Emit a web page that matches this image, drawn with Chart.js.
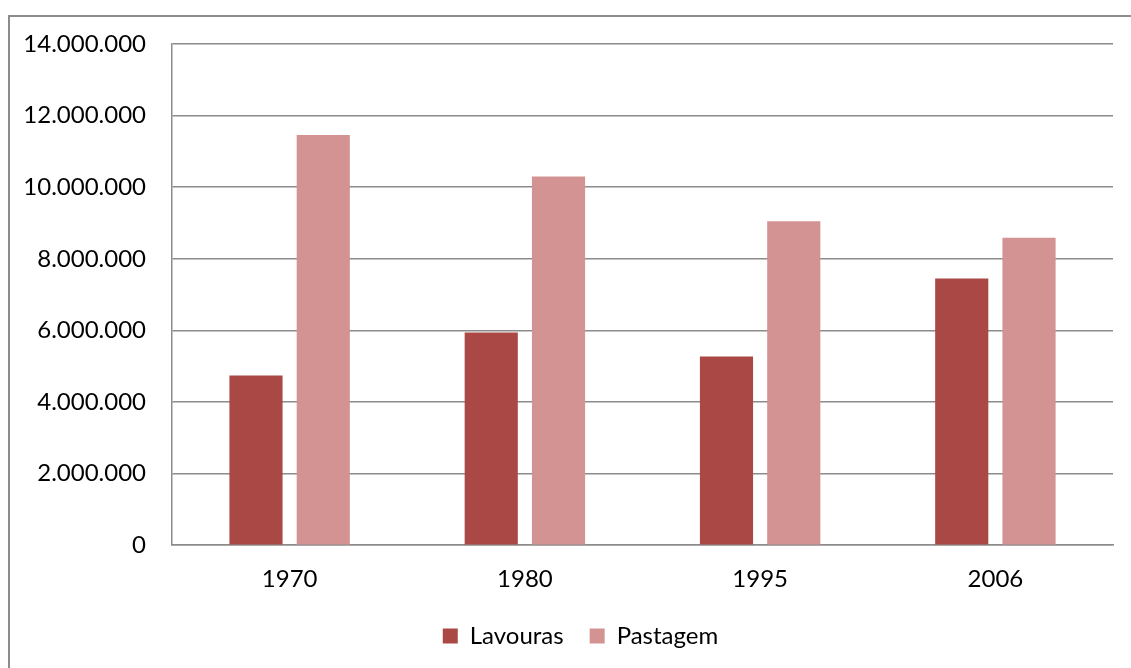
<!DOCTYPE html>
<html>
<head>
<meta charset="utf-8">
<script src="https://cdn.jsdelivr.net/npm/chart.js@4"></script>
<style>
  html, body { margin: 0; padding: 0; background: #fff; overflow: hidden; }
  #frame { position: absolute; left: 8px; top: 15px; width: 1200px; height: 700px;
           border: 2px solid #8c8c8c; box-sizing: border-box; }
  #wrap { position: absolute; left: 0; top: 0; width: 1131px; height: 668px; }
</style>
</head>
<body>
<div id="frame"></div>
<div id="wrap"><canvas id="chart"></canvas></div>
<script>
var years = ['1970', '1980', '1995', '2006'];
var lavouras = [4740000, 5940000, 5270000, 7450000];
var pastagem = [11460000, 10300000, 9050000, 8590000];

function fmt(v) {
    return v.toString().replace(/\B(?=(\d{3})+(?!\d))/g, '.');
}

Chart.defaults.font.family = 'Lato, "Open Sans", sans-serif';
Chart.defaults.font.size = 24;
Chart.defaults.color = '#000';

// legend sits a bit right of the canvas centre in the original
var legendShift = {
    id: 'legendShift',
    afterLayout: function (chart) {
        chart.legend.left += 24;
        chart.legend.right += 24;
    }
};

new Chart(document.getElementById('chart'), {
    type: 'bar',
    data: {
        labels: years,
        datasets: [{
            label: 'Lavouras',
            data: lavouras,
            backgroundColor: '#aa4846'
        }, {
            label: 'Pastagem',
            data: pastagem,
            backgroundColor: '#d29392'
        }]
    },
    options: {
        responsive: true,
        maintainAspectRatio: false,
        animation: false,
        categoryPercentage: 0.572,
        barPercentage: 0.79,
        layout: { padding: { top: 44, right: 18, left: 0, bottom: 10 } },
        plugins: {
            tooltip: { enabled: false },
            legend: {
                position: 'bottom',
                labels: { boxWidth: 15, boxHeight: 15, padding: 26 }
            }
        },
        scales: {
            x: {
                afterFit: function (s) { s.height -= 16; },
                grid: { display: false, drawTicks: false },
                border: { color: '#8c8c8c', width: 1.5 },
                ticks: { padding: 20 }
            },
            y: {
                min: 0,
                max: 14000000,
                afterFit: function (s) { s.width = 172; },
                grid: { color: '#8c8c8c', lineWidth: 1.5, drawTicks: false },
                border: { color: '#8c8c8c', width: 1.5 },
                ticks: { stepSize: 2000000, padding: 26, callback: function (v) { return fmt(v); } }
            }
        }
    },
    plugins: [legendShift]
});
</script>
</body>
</html>
